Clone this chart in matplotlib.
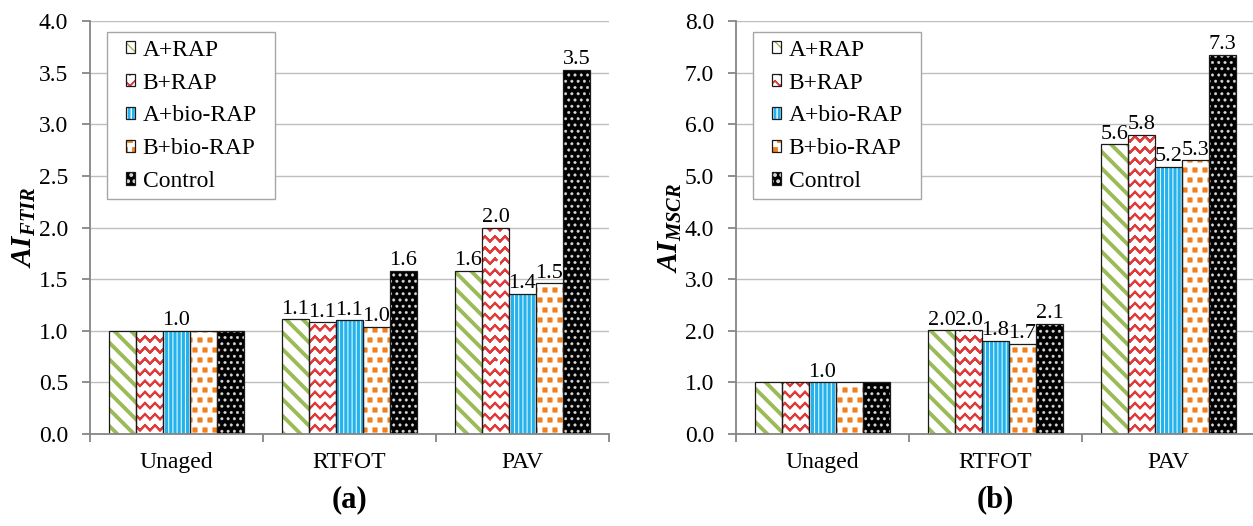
import warnings
warnings.filterwarnings('ignore')
import numpy as np
import matplotlib as mpl
mpl.use('Agg')
import matplotlib.pyplot as plt
from matplotlib import hatch as mhatch
from matplotlib.path import Path
from matplotlib.ticker import FixedLocator, FormatStrFormatter, MultipleLocator

# ---------------- data ----------------
categories = ['Unaged', 'RTFOT', 'PAV']
series = ['A+RAP', 'B+RAP', 'A+bio-RAP', 'B+bio-RAP', 'Control']

ftir_a_rap = [1.00, 1.11, 1.58]
ftir_b_rap = [1.00, 1.08, 2.00]
ftir_a_bio = [1.00, 1.10, 1.36]
ftir_b_bio = [1.00, 1.04, 1.46]
ftir_control = [1.00, 1.58, 3.53]

mscr_a_rap = [1.00, 2.01, 5.61]
mscr_b_rap = [1.00, 2.01, 5.80]
mscr_a_bio = [1.00, 1.81, 5.18]
mscr_b_bio = [1.00, 1.74, 5.30]
mscr_control = [1.00, 2.13, 7.34]

unaged_label_series = 'A+bio-RAP'   # only one label shown for the Unaged group

# ---------------- custom hatch patterns ----------------
class ZigZagHatch(mhatch.HatchPatternBase):
    periods = 10
    amp = 0.026

    def __init__(self, hatch, density):
        self.num_lines = 9 * hatch.count('z')
        self.npts = self.periods * 2 + 1
        self.num_vertices = self.num_lines * self.npts * 2

    def set_vertices_and_codes(self, vertices, codes):
        xs = np.linspace(0, 1, self.npts)
        offs = np.where(np.arange(self.npts) % 2 == 0, -self.amp, self.amp)
        parts_v, parts_c = [], []
        for i in range(self.num_lines):
            y0 = (i + 0.5) / self.num_lines
            pts = np.column_stack([xs, y0 + offs])
            pts = np.concatenate([pts, pts[::-1]])
            c = np.full(len(pts), Path.LINETO, dtype=Path.code_type)
            c[0] = Path.MOVETO
            parts_v.append(pts)
            parts_c.append(c)
        vertices[:] = np.concatenate(parts_v)
        codes[:] = np.concatenate(parts_c)


class SquareHatch(mhatch.Shapes):
    filled = True
    size = 0.22

    def __init__(self, hatch, density):
        self.num_rows = 10 * hatch.count('s')
        self.shape_vertices = np.array([[-1, -1], [1, -1], [1, 1], [-1, 1], [-1, -1]], float)
        self.shape_codes = np.array([Path.MOVETO, Path.LINETO, Path.LINETO,
                                     Path.LINETO, Path.CLOSEPOLY], dtype=Path.code_type)
        super().__init__(hatch, density)


class DotHatch(mhatch.Shapes):
    filled = True
    size = 0.2

    def __init__(self, hatch, density):
        self.num_rows = 16 * hatch.count('d')
        p = Path.unit_circle()
        self.shape_vertices = p.vertices
        self.shape_codes = p.codes
        super().__init__(hatch, density)


mhatch._hatch_types.extend([ZigZagHatch, SquareHatch, DotHatch])

# ---------------- style ----------------
plt.rcParams['font.family'] = ['Liberation Serif', 'DejaVu Serif']
plt.rcParams['mathtext.fontset'] = 'custom'
plt.rcParams['mathtext.rm'] = 'Liberation Serif'
plt.rcParams['mathtext.it'] = 'Liberation Serif:italic'
plt.rcParams['mathtext.bf'] = 'Liberation Serif:bold'
try:
    plt.rcParams['mathtext.bfit'] = 'Liberation Serif:italic:bold'
    BFIT = True
except KeyError:
    BFIT = False

styles = [
    dict(face='white', hatchc='#9BBB59', hatch='\\\\', hlw=2.8),
    dict(face='white', hatchc='#E03A3A', hatch='z', hlw=1.5),
    dict(face='#22B2EE', hatchc='white', hatch='||||', hlw=0.7),
    dict(face='white', hatchc='#F07F1C', hatch='s', hlw=0.4),
    dict(face='black', hatchc='#D8D8D8', hatch='d', hlw=0.3),
]

AXIS_C = '#868686'
GRID_C = '#BEBEBE'
FS = 17


def with_hatch_lw(artist, lw):
    if hasattr(artist, 'set_hatch_linewidth'):
        artist.set_hatch_linewidth(lw)
    orig = artist.draw

    def draw(renderer, _orig=orig, _lw=lw):
        with mpl.rc_context({'hatch.linewidth': _lw}):
            _orig(renderer)
    artist.draw = draw


def legend_box(x0, y0, width, height, mutation_size):
    px = 0.47 * mutation_size
    return Path([(x0 - px, y0), (x0 + width + px, y0), (x0 + width + px, y0 + height),
                 (x0 - px, y0 + height), (x0 - px, y0)], closed=True)


def draw_panel(ax, values_list, ymax, ystep, sub, title):
    n = len(series)
    width = 0.156
    x = np.arange(len(categories))
    handles = []
    for i, (vals, st) in enumerate(zip(values_list, styles)):
        pos = x + (i - (n - 1) / 2) * width
        with mpl.rc_context({'hatch.linewidth': st['hlw']}):
            hb = ax.bar(pos, vals, width, color=st['face'], edgecolor=st['hatchc'],
                        hatch=st['hatch'], linewidth=0, zorder=2)
        for p in hb:
            with_hatch_lw(p, st['hlw'])
        ob = ax.bar(pos, vals, width, fill=False, edgecolor='#1A1A1A',
                    linewidth=0.9, zorder=3)
        labels = [f'{v:.1f}' if (c != 'Unaged' or series[i] == unaged_label_series) else ''
                  for c, v in zip(categories, vals)]
        ax.bar_label(ob, labels=labels, padding=0.5, fontsize=16)
        handles.append((hb[0], ob[0]))

    ax.set_xlim(-0.5, len(categories) - 0.5)
    ax.set_ylim(0, ymax)
    ax.yaxis.set_major_locator(MultipleLocator(ystep))
    ax.yaxis.set_major_formatter(FormatStrFormatter('%.1f'))
    ax.grid(axis='y', color=GRID_C, linewidth=1.0, zorder=0)
    ax.set_axisbelow(True)
    for s in ['top', 'right']:
        ax.spines[s].set_visible(False)
    for s in ['left', 'bottom']:
        ax.spines[s].set_color(AXIS_C)
        ax.spines[s].set_linewidth(1.3)
        ax.spines[s].set_zorder(4)
    ax.set_xticks(x)
    ax.set_xticklabels(categories, fontsize=FS)
    ax.xaxis.set_minor_locator(FixedLocator(np.arange(len(categories) + 1) - 0.5))
    ax.tick_params(axis='x', which='major', length=0, pad=13)
    ax.tick_params(axis='x', which='minor', length=5.5, width=1.3, color=AXIS_C, direction='out')
    ax.tick_params(axis='y', length=5.8, width=1.3, color=AXIS_C, direction='out',
                   labelsize=FS, pad=10)

    if BFIT:
        lab = r'$\mathbfit{AI}_{\mathbfit{' + sub + '}}$'
    else:
        lab = r'$\mathbf{AI}_{\mathbf{' + sub + '}}$'
    ax.set_ylabel(lab, fontsize=21)
    ax.yaxis.set_label_coords(-0.1, 0.5)

    ax.text(0.5, -0.16, title, transform=ax.transAxes, ha='center', va='center',
            fontsize=22, fontweight='bold')

    leg = ax.legend(handles, series, loc='upper left', bbox_to_anchor=(0.054, 0.973),
                    borderaxespad=0, fontsize=FS, handlelength=0.42, handleheight=0.42,
                    handletextpad=0.3, labelspacing=0.5, borderpad=0.32,
                    fancybox=False, framealpha=1, edgecolor='#A6A6A6')
    leg.get_frame().set_linewidth(1.0)
    leg.get_frame().set_boxstyle(legend_box)
    leg.set_zorder(5)
    return ax


fig = plt.figure(figsize=(12.53, 5.26), dpi=100)
W, H = 1253.0, 526.0
ax1 = fig.add_axes([90 / W, (H - 434) / H, 519 / W, 413 / H])
ax2 = fig.add_axes([736 / W, (H - 434) / H, 519 / W, 413 / H])

draw_panel(ax1, [ftir_a_rap, ftir_b_rap, ftir_a_bio, ftir_b_bio, ftir_control],
           4.0, 0.5, 'FTIR', '(a)')
draw_panel(ax2, [mscr_a_rap, mscr_b_rap, mscr_a_bio, mscr_b_bio, mscr_control],
           8.0, 1.0, 'MSCR', '(b)')

fig.savefig('out.png', dpi=100)
